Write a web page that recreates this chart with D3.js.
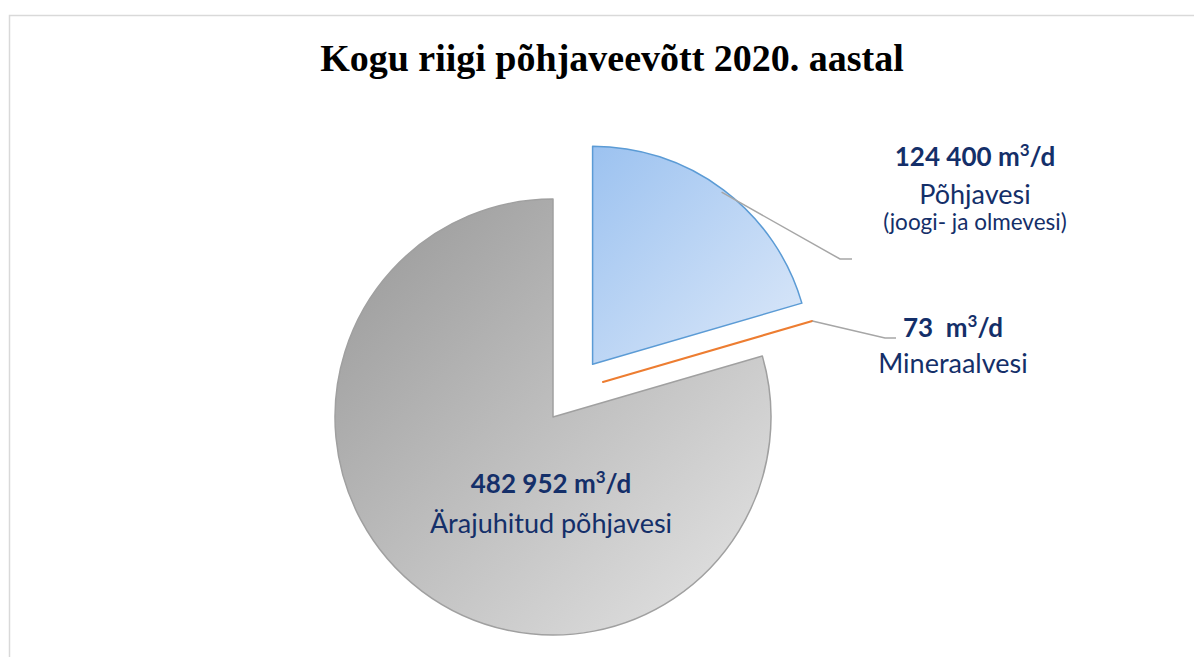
<!DOCTYPE html>
<html lang="et">
  <head>
    <meta charset="UTF-8">
    <title>Kogu riigi põhjaveevõtt 2020. aastal</title>
    <script src="https://cdn.jsdelivr.net/npm/d3@7"></script>
    <style>
      body { margin: 0; background: #fff; }
      .lbl { font-family: Lato, "Open Sans", sans-serif; fill: #142f69; white-space: pre; }
      .leader { fill: none; stroke: #a6a6a6; stroke-width: 1.5; }
    </style>
  </head>
  <body>
    <svg id="chart"></svg>

    <script>
      // data
      var names = ["Põhjavesi", "Mineraalvesi", "Ärajuhitud põhjavesi"];
      var values = [124400, 73, 482952];
      var valueLabels = ["124 400 m³/d", "73  m³/d", "482 952 m³/d"];
      var subLabels = ["(joogi- ja olmevesi)", "", ""];

      var width = 1194, height = 657;
      var cx = 553, cy = 417, radius = 218;

      // explode distance and direction (deg) for each slice, null = slice middle
      var explode = [66, 61, 0];
      var explodeDir = [null, 55, null];

      var svg = d3.select("#chart")
        .attr("width", width)
        .attr("height", height);

      // chart frame
      svg.append("rect")
        .attr("x", 9.5).attr("y", 15.5)
        .attr("width", width + 20).attr("height", height + 20)
        .attr("fill", "#fff")
        .attr("stroke", "#d9d9d9")
        .attr("stroke-width", 1.5);

      svg.append("text")
        .attr("x", 612).attr("y", 71)
        .attr("text-anchor", "middle")
        .style("font-family", "'Liberation Serif', 'Times New Roman', serif")
        .style("font-weight", "bold")
        .style("font-size", "38px")
        .text("Kogu riigi põhjaveevõtt 2020. aastal");

      var defs = svg.append("defs");
      function grad(id, c1, c2) {
        var g = defs.append("linearGradient").attr("id", id)
          .attr("x1", 0).attr("y1", 0).attr("x2", 1).attr("y2", 1);
        g.append("stop").attr("offset", "0%").attr("stop-color", c1);
        g.append("stop").attr("offset", "100%").attr("stop-color", c2);
      }
      grad("gBlue", "#9cc2f0", "#dde9f9");
      grad("gGray", "#979797", "#e6e6e6");

      var fills = ["url(#gBlue)", "#ed7d31", "url(#gGray)"];
      var strokes = ["#5b9bd5", "#ed7d31", "#a0a0a0"];

      var pie = d3.pie().sort(null).value(function(d) { return d; });
      var arcs = pie(values);
      var arc = d3.arc().innerRadius(0).outerRadius(radius);

      function offset(d, i) {
        var a = explodeDir[i] == null ? (d.startAngle + d.endAngle) / 2 : explodeDir[i] * Math.PI / 180;
        return [Math.sin(a) * explode[i], -Math.cos(a) * explode[i]];
      }

      var slices = svg.append("g")
        .attr("transform", "translate(" + cx + "," + cy + ")");

      slices.selectAll("path")
        .data(arcs)
        .enter()
        .append("path")
        .attr("d", arc)
        .attr("transform", function(d, i) {
          var o = offset(d, i);
          return "translate(" + o[0] + "," + o[1] + ")";
        })
        .attr("fill", function(d, i) { return fills[i]; })
        .attr("stroke", function(d, i) { return strokes[i]; })
        .attr("stroke-width", function(d, i) { return i === 1 ? 2 : 1.5; })
        .attr("stroke-linejoin", "round");

      // leader lines for the two outside labels
      var leaderEnd = [[840 - cx, 259 - cy, 12], [885 - cx, 338 - cy, 11]];
      [0, 1].forEach(function(i) {
        var d = arcs[i], o = offset(d, i);
        var a = i === 0 ? (d.startAngle + d.endAngle) / 2 : d.endAngle;
        var r = i === 0 ? radius - 3 : radius;
        var p0 = [o[0] + Math.sin(a) * r, o[1] - Math.cos(a) * r];
        var e = leaderEnd[i];
        slices.append("path")
          .attr("class", "leader")
          .attr("d", d3.line()([p0, [e[0], e[1]], [e[0] + e[2], e[1]]]));
      });

      // value label with a real superscript 3
      function valueText(sel, s) {
        var parts = s.split("³");
        sel.append("tspan").text(parts[0]);
        sel.append("tspan").attr("dy", -10).style("font-size", "17px").text("3");
        sel.append("tspan").attr("dy", 10).text(parts[1]);
      }

      // labels
      var labelPos = [[975, 166, 38], [953, 337, 36], [551, 493, 40]];
      arcs.forEach(function(d, i) {
        var p = labelPos[i];
        svg.append("text").attr("class", "lbl")
          .attr("x", p[0]).attr("y", p[1])
          .attr("text-anchor", "middle")
          .style("font-weight", "bold")
          .style("font-size", "26px")
          .call(valueText, valueLabels[i]);
        svg.append("text").attr("class", "lbl")
          .attr("x", p[0]).attr("y", p[1] + p[2])
          .attr("text-anchor", "middle")
          .style("font-size", "27px")
          .text(names[i]);
        if (subLabels[i]) {
          svg.append("text").attr("class", "lbl")
            .attr("x", p[0]).attr("y", p[1] + 64)
            .attr("text-anchor", "middle")
            .style("font-size", "22.5px")
            .text(subLabels[i]);
        }
      });
    </script>
  </body>
</html>
